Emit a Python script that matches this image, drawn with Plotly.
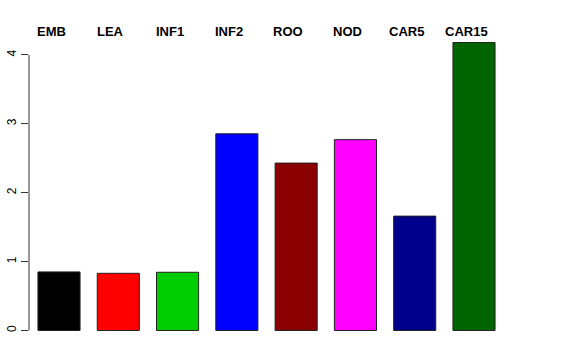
import plotly.graph_objects as go

categories = ["EMB", "LEA", "INF1", "INF2", "ROO", "NOD", "CAR5", "CAR15"]
values = [0.85, 0.83, 0.845, 2.855, 2.43, 2.77, 1.66, 4.18]
colors = ["#000000", "#FF0000", "#00CD00", "#0000FF", "#8B0000", "#FF00FF", "#00008B", "#006400"]
y_ticks = [0, 1, 2, 3, 4]

idx = list(range(len(categories)))
fig = go.Figure()
fig.add_trace(go.Bar(
    x=idx, y=values, width=0.71,
    marker=dict(color=colors, line=dict(color="#222222", width=1)),
    hoverinfo="skip",
))

for i, c in zip(idx, categories):
    fig.add_annotation(x=i, y=1, xref="x", yref="paper", text=f"<b>{c}</b>",
                       showarrow=False, yanchor="middle", yshift=0, xshift=-8,
                       font=dict(family="Liberation Sans, Arial", size=13, color="black"))

# y-axis line spanning the tick range only (R style)
fig.add_shape(type="line", xref="paper", yref="y", x0=0, x1=0,
              y0=y_ticks[0], y1=y_ticks[-1], line=dict(color="#333333", width=1))

ymax = max(values)
fig.update_layout(
    width=576, height=360,
    margin=dict(l=29, r=72, t=31, b=18),
    plot_bgcolor="white", paper_bgcolor="white",
    showlegend=False,
    bargap=0,
    hovermode=False,
    xaxis=dict(range=[-0.506, len(categories) - 1 + 0.506], showticklabels=False,
               showgrid=False, zeroline=False, showline=False, ticks="",
               automargin=False),
    yaxis=dict(range=[-0.04 * ymax, 1.04 * ymax], tickvals=y_ticks,
               ticktext=[str(t) for t in y_ticks], automargin=False,
               ticks="outside", ticklen=7, tickcolor="#333333", tickwidth=1,
               tickangle=-90, showgrid=False, zeroline=False, showline=False,
               ticklabelstandoff=0,
               tickfont=dict(family="Liberation Sans, Arial", size=12, color="black")),
    font=dict(family="Liberation Sans, Arial", size=12, color="black"),
)

fig.write_html("out.html", config={"displayModeBar": False, "staticPlot": True},
               post_script="document.body.style.margin='0';document.body.style.overflow='hidden';")
